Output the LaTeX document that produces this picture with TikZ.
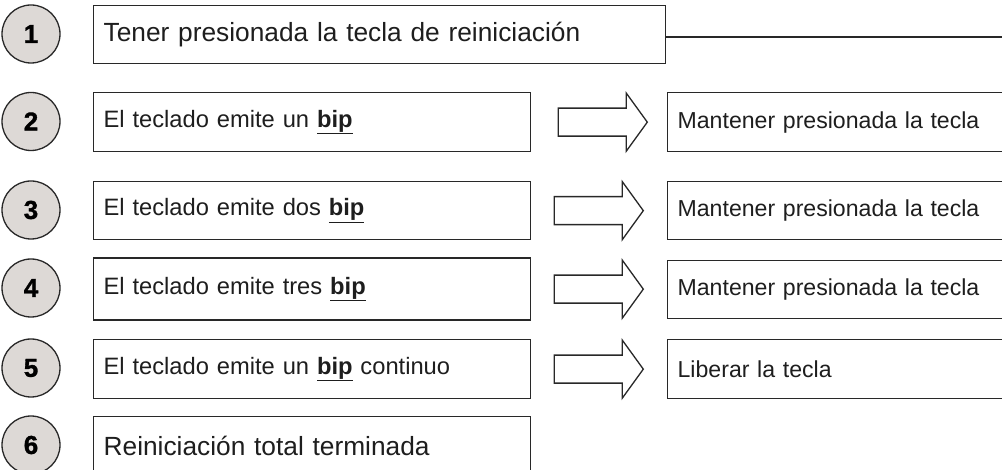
\documentclass[tikz,border=0pt]{standalone}
\usepackage{fontspec}
\setmainfont{Liberation Sans}
\newfontfamily\numfont{Liberation Sans}[FakeBold=1.2]
\usetikzlibrary{calc}
\definecolor{linec}{RGB}{40,40,40}
\definecolor{numfill}{RGB}{221,217,214}
\definecolor{txtc}{RGB}{30,30,30}
\newcommand{\bipw}{\underline{\textbf{bip}}}
\newcommand{\numtxt}[1]{{\numfont\bfseries\fontsize{26}{26}\selectfont #1}}
\begin{document}
\begin{tikzpicture}[x=1pt,y=-1pt,
  num/.style={circle, draw=linec, fill=numfill, line width=1.3pt, minimum size=58pt, inner sep=0pt,
    text=black},
  stepbox/.style={draw=linec, line width=1.3pt, rectangle, anchor=north west, inner xsep=10pt, inner ysep=0pt,
    align=left, text=txtc},
  bigtxt/.style={font=\fontsize{26.3}{28}\selectfont},
  midtxt/.style={font=\fontsize{23.7}{26}\selectfont},
  rtxt/.style={font=\fontsize{23.1}{26}\selectfont},
  bigarrow/.style={draw=linec, line width=1.3pt, fill=white, line join=miter}
]
\useasboundingbox (0,0) rectangle (1002,470);
\fill[white] (0,0) rectangle (1002,470);

% number circles
\node[num] (n1) at (31,34) {\numtxt{1}};
\node[num] (n2) at (31,121.5) {\numtxt{2}};
\node[num] (n3) at (31,210) {\numtxt{3}};
\node[num] (n4) at (31,288) {\numtxt{4}};
\node[num] (n5) at (31,368) {\numtxt{5}};
\node[num] (n6) at (31,445) {\numtxt{6}};

% left step boxes
\node[stepbox, bigtxt, text width=552pt, minimum height=58pt] (b1) at (93,5) {Tener presionada la tecla de reiniciación};
\node[stepbox, midtxt, text width=417pt, minimum height=59pt] (b2) at (93,92) {El teclado emite un \bipw};
\node[stepbox, midtxt, text width=417pt, minimum height=58pt] (b3) at (93,181) {El teclado emite dos \bipw};
\node[stepbox, midtxt, text width=417pt, minimum height=62pt] (b4) at (93,257.5) {El teclado emite tres \bipw};
\node[stepbox, midtxt, text width=417pt, minimum height=59pt] (b5) at (93,339) {El teclado emite un \bipw{} continuo};
\node[stepbox, bigtxt, text width=417pt, minimum height=58pt] (b6) at (93,416) {Reiniciación total terminada};

% right boxes (run past the right edge)
\node[stepbox, rtxt, text width=380pt, minimum height=59pt] (r2) at (667,92) {Mantener presionada la tecla};
\node[stepbox, rtxt, text width=380pt, minimum height=58pt] (r3) at (667,181) {Mantener presionada la tecla};
\node[stepbox, rtxt, text width=380pt, minimum height=58pt] (r4) at (667,260) {Mantener presionada la tecla};
\node[stepbox, rtxt, text width=380pt, minimum height=59pt] (r5) at (667,339) {Liberar la tecla};

% line from step 1 to the right edge
\coordinate (e1) at (1010,37);
\draw[linec, line width=1.3pt] (b1.east |- e1) -- (e1);

% block arrows between boxes
\foreach \i/\d in {2/0,3/4,4/4,5/4}{
  \path (b\i.east) ++(27-\d,0) coordinate (a\i);
  \draw[bigarrow] (a\i) ++(0,-14) -- ++(68,0) -- ++(0,-15) -- ++(21,29) -- ++(-21,29) -- ++(0,-15) -- ++(-68,0) -- cycle;
}
\end{tikzpicture}
\end{document}
